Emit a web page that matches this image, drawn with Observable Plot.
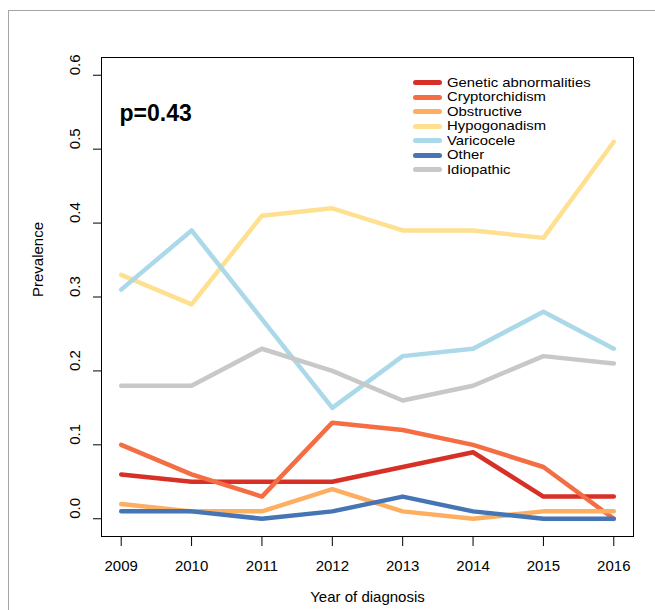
<!DOCTYPE html>
<html>
<head>
<meta charset="utf-8">
<script src="https://cdn.jsdelivr.net/npm/d3@7"></script>
<script src="https://cdn.jsdelivr.net/npm/@observablehq/plot@0.6"></script>
<style>
  html, body { margin: 0; padding: 0; background: #fff; }
  #wrap { position: relative; width: 655px; height: 610px; overflow: hidden; font-family: "Liberation Sans", Arial, Helvetica, sans-serif; }
  #outer { position: absolute; left: 8px; top: 10px; right: -2px; bottom: -2px; border-top: 1px solid #a6a6a6; border-left: 1px solid #a6a6a6; }
  #chart { position: absolute; left: 0; top: 0; }
  #legend { position: absolute; left: 413px; top: 75.6px; }
  .row { display: flex; align-items: center; height: 14.5px; overflow: visible; }
  .sw { flex: none; width: 29px; height: 5px; border-radius: 2.5px; margin-right: 5px; }
  .lab { display: block; font-size: 12.8px; line-height: 14.5px; color: #000; white-space: nowrap; transform: scaleX(1.16); transform-origin: 0 50%; }
</style>
</head>
<body>
<div id="wrap">
  <div id="outer"></div>
  <div id="chart"></div>
  <div id="legend"></div>
</div>
<script>
const years = [2009, 2010, 2011, 2012, 2013, 2014, 2015, 2016];
const categories = ["Genetic abnormalities", "Cryptorchidism", "Obstructive", "Hypogonadism", "Varicocele", "Other", "Idiopathic"];
const genetic        = [0.06, 0.05, 0.05, 0.05, 0.07, 0.09, 0.03, 0.03];
const cryptorchidism = [0.10, 0.06, 0.03, 0.13, 0.12, 0.10, 0.07, 0.00];
const obstructive    = [0.02, 0.01, 0.01, 0.04, 0.01, 0.00, 0.01, 0.01];
const hypogonadism   = [0.33, 0.29, 0.41, 0.42, 0.39, 0.39, 0.38, 0.51];
const varicocele     = [0.31, 0.39, 0.27, 0.15, 0.22, 0.23, 0.28, 0.23];
const other          = [0.01, 0.01, 0.00, 0.01, 0.03, 0.01, 0.00, 0.00];
const idiopathic     = [0.18, 0.18, 0.23, 0.20, 0.16, 0.18, 0.22, 0.21];
const yTicks = [0.0, 0.1, 0.2, 0.3, 0.4, 0.5, 0.6];
const pLabel = "p=0.43";
const xLabel = "Year of diagnosis";
const yLabel = "Prevalence";

const colors = ["#d73027", "#f46d43", "#fdae61", "#fee090", "#abd9e9", "#4575b4", "#c8c8c8"];

const series = [genetic, cryptorchidism, obstructive, hypogonadism, varicocele, other, idiopathic];
const rows = [];
categories.forEach((c, i) => {
  years.forEach((yr, j) => rows.push({ category: c, year: yr, value: series[i][j] }));
});

const chart = Plot.plot({
  width: 655,
  height: 610,
  marginLeft: 101,
  marginRight: 22,
  marginTop: 57,
  marginBottom: 74,
  x: { domain: [2008.72, 2016.28] },
  y: { domain: [-0.024, 0.624] },
  color: { domain: categories, range: colors },
  style: { fontFamily: '"Liberation Sans", Arial, Helvetica, sans-serif', fontSize: "15px", color: "#000", background: "transparent" },
  marks: [
    Plot.line(rows, {
      x: "year", y: "value", z: "category", stroke: "category",
      strokeWidth: 4.5, strokeLinecap: "round", strokeLinejoin: "round"
    }),
    Plot.frame({ stroke: "#000", strokeWidth: 1 }),
    Plot.axisX({ ticks: years, tickSize: 10, tickPadding: 14, tickFormat: d => String(d), label: null, fontSize: 15 }),
    Plot.axisY({ ticks: yTicks, tickSize: 8, tickFormat: () => "", label: null }),
    Plot.text(yTicks, { y: d => d, text: d => d.toFixed(1), frameAnchor: "left", dx: -26, rotate: -90, fontSize: 15 }),
    Plot.text([yLabel], { text: d => d, frameAnchor: "left", dx: -63, rotate: -90, fontSize: 15 }),
    Plot.text([xLabel], { text: d => d, frameAnchor: "bottom", dy: 65, fontSize: 15 }),
    Plot.text([pLabel], { text: d => d, frameAnchor: "top-left", textAnchor: "start", dx: 18, dy: 47, fontSize: 23, fontWeight: "bold" })
  ]
});
document.getElementById("chart").appendChild(chart);

const legend = document.getElementById("legend");
categories.forEach((c, i) => {
  const row = document.createElement("div");
  row.className = "row";
  const sw = document.createElement("span");
  sw.className = "sw";
  sw.style.background = colors[i];
  const lab = document.createElement("div");
  lab.className = "lab";
  lab.textContent = c;
  row.appendChild(sw);
  row.appendChild(lab);
  legend.appendChild(row);
});
</script>
</body>
</html>
